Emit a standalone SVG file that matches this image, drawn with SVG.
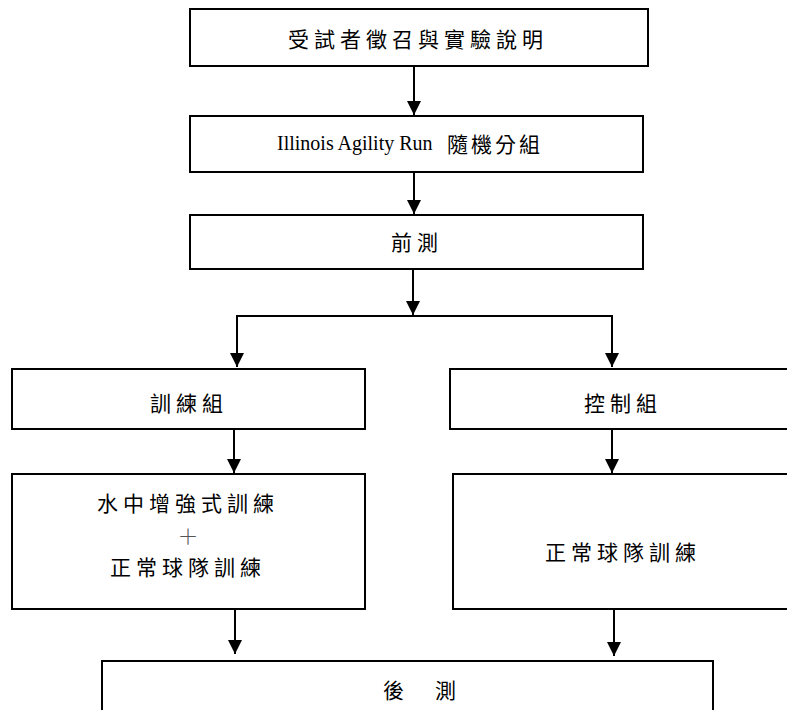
<svg xmlns="http://www.w3.org/2000/svg" width="787" height="710" viewBox="0 0 787 710">
<style>
.box{fill:#fff;stroke:#000;stroke-width:2}
.cjk{font-family:"Noto Sans CJK TC","Noto Sans CJK SC",sans-serif;font-size:21px;fill:#000;letter-spacing:5px}
.lat{font-family:"Liberation Serif",serif;font-size:20px;fill:#000}
.conn{stroke:#000;stroke-width:2;fill:none}
</style>
<defs>
<marker id="arr" markerUnits="userSpaceOnUse" markerWidth="14" markerHeight="16" refX="14" refY="7" orient="auto">
<path d="M0,0 L14,7 L0,14 Z" fill="#000"/>
</marker>
</defs>
<rect width="787" height="710" fill="#fff"/>
<g id="connectors">
<line class="conn" x1="414" y1="66" x2="414" y2="115" marker-end="url(#arr)"/>
<line class="conn" x1="414" y1="172" x2="414" y2="214" marker-end="url(#arr)"/>
<line class="conn" x1="413" y1="269" x2="413" y2="315" marker-end="url(#arr)"/>
<polyline class="conn" points="237,366 237,316 612,316 612,366"/>
<line class="conn" x1="237" y1="330" x2="237" y2="367" marker-end="url(#arr)"/>
<line class="conn" x1="612" y1="330" x2="612" y2="367" marker-end="url(#arr)"/>
<line class="conn" x1="234" y1="429" x2="234" y2="473" marker-end="url(#arr)"/>
<line class="conn" x1="612" y1="429" x2="612" y2="473" marker-end="url(#arr)"/>
<line class="conn" x1="235" y1="609" x2="235" y2="654" marker-end="url(#arr)"/>
<line class="conn" x1="614" y1="609" x2="614" y2="656" marker-end="url(#arr)"/>
</g>
<g id="n1">
<rect class="box" x="190" y="9" width="458" height="57"/>
<text class="cjk" x="288" y="47">受試者徵召與實驗說明</text>
</g>
<g id="n2">
<rect class="box" x="190" y="116" width="453" height="56"/>
<text x="277" y="150"><tspan class="lat">Illinois Agility Run</tspan><tspan class="cjk" x="447" y="152" style="letter-spacing:3px">隨機分組</tspan></text>
</g>
<g id="n3">
<rect class="box" x="190" y="215" width="453" height="54"/>
<text class="cjk" x="391" y="250">前測</text>
</g>
<g id="n4">
<rect class="box" x="12" y="369" width="353" height="60"/>
<text class="cjk" x="150" y="411">訓練組</text>
</g>
<g id="n5">
<rect class="box" x="450" y="369" width="345" height="60"/>
<text class="cjk" x="584" y="411">控制組</text>
</g>
<g id="n6">
<rect class="box" x="12" y="474" width="353" height="135"/>
<text class="cjk" x="97" y="511">水中增強式訓練</text>
<text x="188" y="544" text-anchor="middle" style="font-family:'Noto Sans CJK TC',sans-serif;font-size:21px;font-weight:300;fill:#555">＋</text>
<text class="cjk" x="110" y="575">正常球隊訓練</text>
</g>
<g id="n7">
<rect class="box" x="453" y="474" width="342" height="135"/>
<text class="cjk" x="545" y="560">正常球隊訓練</text>
</g>
<g id="n8">
<rect class="box" x="102" y="661" width="611" height="70"/>
<text class="cjk" x="383" y="698">後　測</text>
</g>
</svg>
